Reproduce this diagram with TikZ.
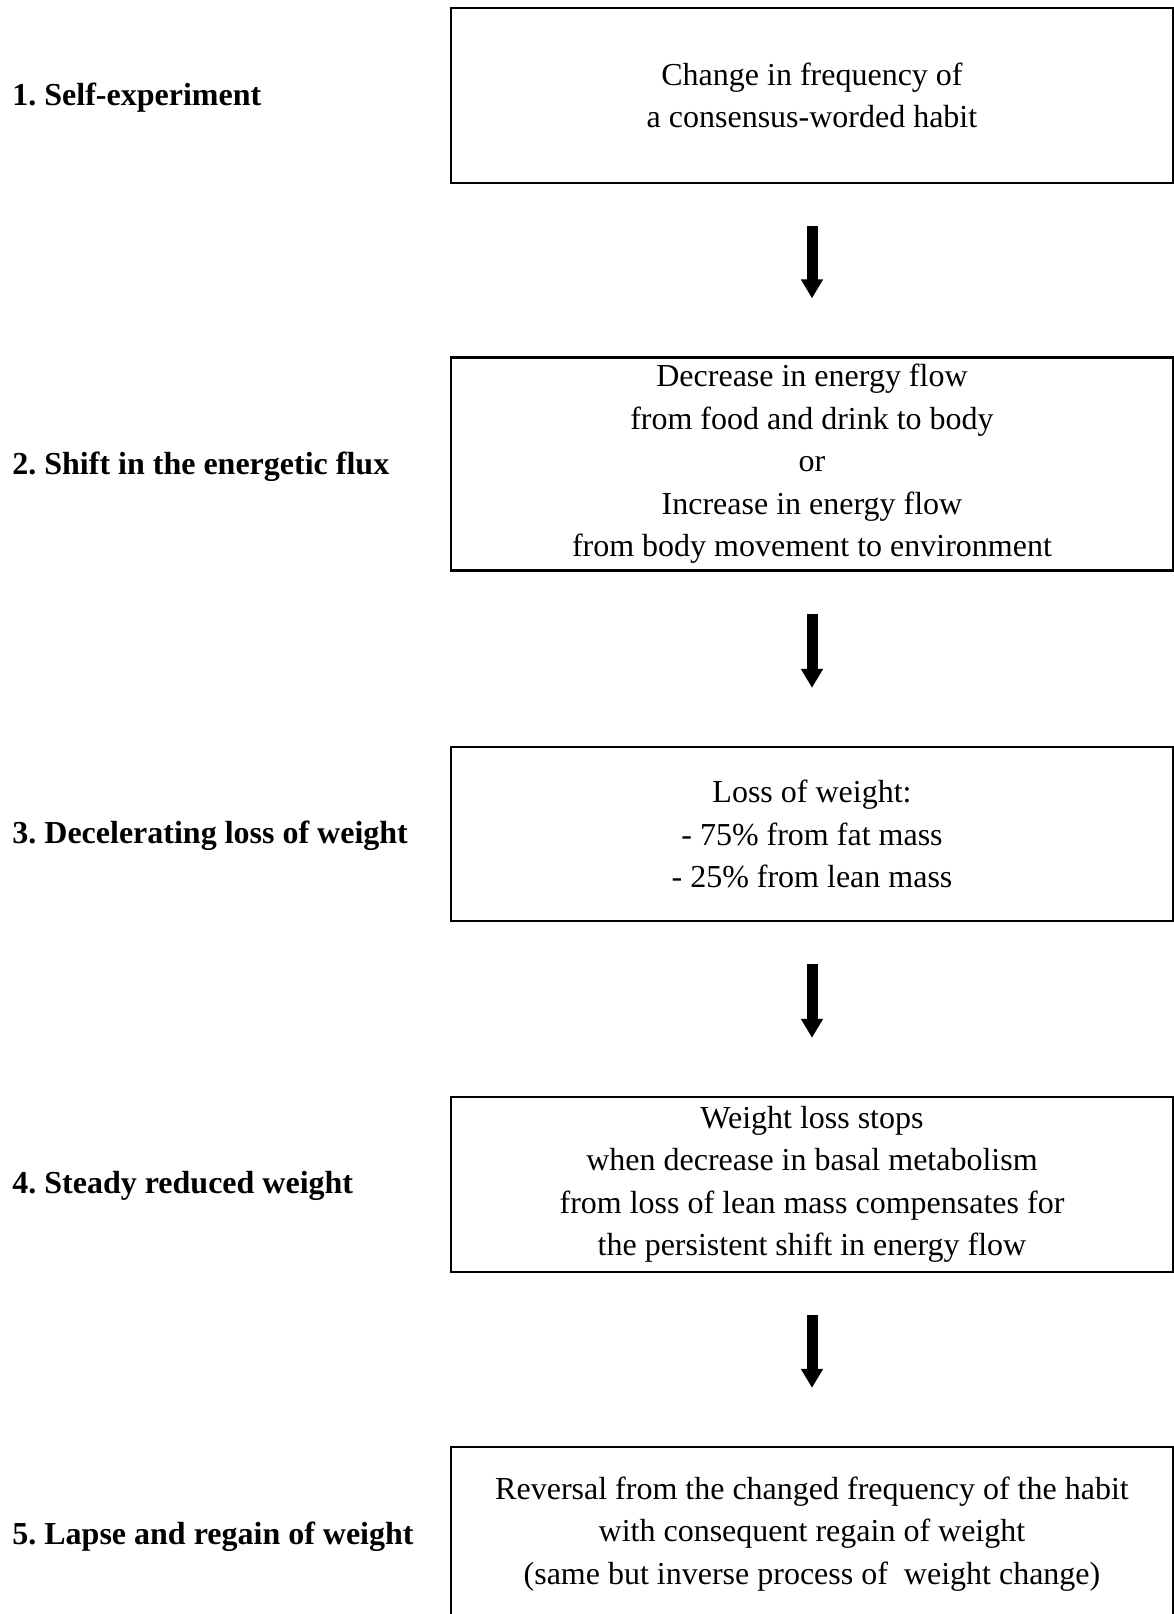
\documentclass[tikz,border=0pt]{standalone}
\usepackage{fontspec}
\setmainfont{Liberation Serif}
\usetikzlibrary{arrows.meta}
\frenchspacing
\tikzset{
  box/.style={draw, line width=1.2pt, inner sep=0pt, minimum width=361pt, align=center,
    font=\fontsize{16}{21.25}\selectfont},
  steplabel/.style={anchor=west, inner sep=0pt, font=\fontsize{16}{19}\selectfont\bfseries},
  bigarrow/.style={line width=5.5pt, -{Triangle[width=10.5pt,length=9.5pt]},
    shorten <=21pt, shorten >=29pt}
}
\begin{document}
\begin{tikzpicture}[x=0.5pt,y=-0.5pt]
\useasboundingbox (0,0) rectangle (1174,1614);
\node[box, minimum height=87.5pt] (b1) at (812,95.5)
  {Change in frequency of\\a consensus-worded habit};
\node[box, minimum height=106.5pt] (b2) at (812,464)
  {Decrease in energy flow\\from food and drink to body\\or\\Increase in energy flow\\from body movement to environment};
\node[box, minimum height=87pt] (b3) at (812,834)
  {Loss of weight:\\- 75\% from fat mass\\- 25\% from lean mass};
\node[box, minimum height=87.5pt] (b4) at (812,1184.5)
  {Weight loss stops\\when decrease in basal metabolism\\from loss of lean mass compensates for\\the persistent shift in energy flow};
\node[box, minimum height=87pt] (b5) at (812,1534)
  {Reversal from the changed frequency of the habit\\with consequent regain of weight\\(same but inverse process of\ \ weight change)};
\node[steplabel] (l1) at (12,98) {1. Self-experiment};
\node[steplabel] (l2) at (12,467) {2. Shift in the energetic flux};
\node[steplabel] (l3) at (12,836) {3. Decelerating loss of weight};
\node[steplabel] (l4) at (12,1186) {4. Steady reduced weight};
\node[steplabel] (l5) at (12,1537) {5. Lapse and regain of weight};
\draw[bigarrow] (b1.south) -- (b2.north);
\draw[bigarrow] (b2.south) -- (b3.north);
\draw[bigarrow] (b3.south) -- (b4.north);
\draw[bigarrow] (b4.south) -- (b5.north);
\end{tikzpicture}
\end{document}
